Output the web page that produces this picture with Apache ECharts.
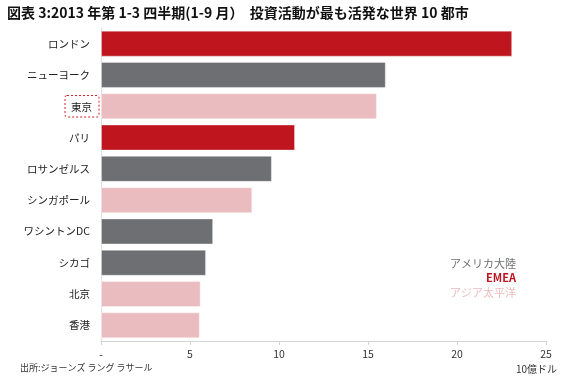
<!DOCTYPE html>
<html><head><meta charset="utf-8">
<script src="https://cdn.jsdelivr.net/npm/echarts@6/dist/echarts.min.js"></script>
<style>html,body{margin:0;padding:0;background:#fff}#c{width:583px;height:382px}</style>
</head><body><div id="c"></div>
<script>
const cities = ['ロンドン','ニューヨーク','東京','パリ','ロサンゼルス','シンガポール','ワシントンDC','シカゴ','北京','香港'];
const values = [23.1, 16.0, 15.5, 10.9, 9.6, 8.5, 6.3, 5.9, 5.6, 5.55];
const regions = ['EMEA','AM','AP','EMEA','AM','AP','AM','AM','AP','AP'];
const regionNames = ['アメリカ大陸','EMEA','アジア太平洋'];
const regionKeys = ['AM','EMEA','AP'];
const colors = {AM:'#6d6f72', EMEA:'#be151e', AP:'#ebbcbf'};
const xTicks = [0,5,10,15,20,25];
const highlight = '東京';
const FONT = '"Noto Sans CJK JP", "Liberation Sans", sans-serif';

const chart = echarts.init(document.getElementById('c'), null, {renderer:'canvas'});
chart.setOption({
  animation:false,
  textStyle:{fontFamily:FONT},
  title:{
    text:'図表 3:2013 年第 1-3 四半期(1-9 月）  投資活動が最も活発な世界 10 都市',
    left:2, top:1,
    textStyle:{fontSize:14, fontWeight:'bold', color:'#111', fontFamily:FONT}
  },
  grid:{left:101, right:37, top:28, bottom:41, containLabel:false},
  xAxis:{
    type:'value', min:xTicks[0], max:xTicks[xTicks.length-1], interval:5,
    axisLine:{show:true, lineStyle:{color:'#d4d4d4'}},
    axisTick:{show:true, length:4, lineStyle:{color:'#d4d4d4'}},
    splitLine:{show:false},
    axisLabel:{color:'#333', fontSize:10.5, margin:8,
      formatter:v => v===0 ? '-' : String(v)}
  },
  yAxis:{
    type:'category', data:cities, inverse:true,
    axisLine:{show:true, lineStyle:{color:'#e0e0e0'}},
    axisTick:{show:false},
    axisLabel:{margin:2, color:'#222', fontSize:10.5,
      formatter:v => v===highlight ? '{box|'+v+'}' : '{n|'+v+'}',
      rich:{
        n:{padding:[0,9,0,0], fontSize:10.5, color:'#222'},
        box:{padding:[6,7,5,6], borderColor:'#d2232a', borderWidth:1, borderType:[2,2], borderRadius:2, fontSize:10.5, color:'#222'}
      }
    }
  },
  series:[{
    type:'bar', barCategoryGap:'17%',
    data:values.map((v,i)=>({value:v, itemStyle:{color:colors[regions[i]], borderColor:'rgba(255,255,255,0.35)', borderWidth:1}})),
    label:{show:false}
  }],
  graphic:[
    ...regionNames.map((t,i)=>({
      type:'text', right:67, top:258+i*14.5,
      style:{text:t, fill:colors[regionKeys[i]], font:(regionKeys[i]==='EMEA'?'bold ':'')+'11px '+FONT, textAlign:'right'}
    })),
    {type:'text', left:20, top:363, style:{text:'出所:ジョーンズ ラング ラサール', fill:'#333', font:'9px '+FONT}},
    {type:'text', left:516, top:364, style:{text:'10億ドル', fill:'#333', font:'10px '+FONT}}
  ]
});
</script></body></html>
